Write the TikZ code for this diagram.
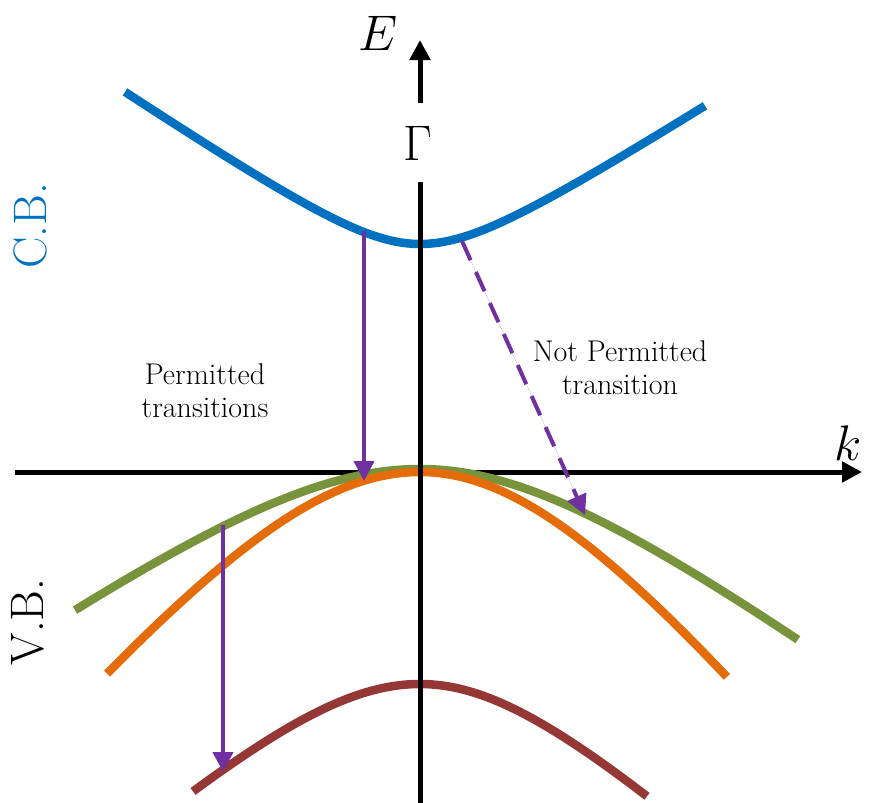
\RequirePackage{fix-cm}
\documentclass[tikz,border=0pt]{standalone}
\usepackage{fontspec}
\usepackage{amsmath,amssymb}
\usepackage{xcolor}
\usepackage{tikz}
\usetikzlibrary{arrows.meta,positioning}

\definecolor{cbblue}{HTML}{0070C0}
\definecolor{hhgreen}{HTML}{77933C}
\definecolor{lhorange}{HTML}{E46C0A}
\definecolor{sobrown}{HTML}{953735}
\definecolor{trpurple}{HTML}{7030A0}

\begin{document}
\begin{tikzpicture}[x=1pt,y=-1pt,>={Triangle[length=20pt,width=20pt]}]
  \tikzstyle{band}=[line width=8.5pt,samples=80]
  \tikzstyle{axis}=[line width=5pt,black]
  \tikzstyle{trans}=[->,line width=4pt,draw=trpurple,fill=trpurple]
  \tikzstyle{lbl}=[align=center,font=\fontsize{30}{33}\selectfont]
  \tikzstyle{bandname}=[rotate=90,font=\fontsize{47}{52}\selectfont]
  \tikzstyle{axlbl}=[font=\fontsize{50}{56}\selectfont]
  \useasboundingbox (0,0) rectangle (870,803);

  % axis ends
  \coordinate (xl) at (15,472);
  \coordinate (xr) at (862,472);
  \coordinate (yb) at (420,803);
  \coordinate (yt) at (420,40);
  \coordinate (gb) at (420,182);
  \coordinate (gt) at (420,103);

  % horizontal axis under the bands
  \draw[axis,->] (xl) -- (xr);

  % bands (u = k in units of 100)
  \draw[band,cbblue] plot[domain=-2.95:0] ({420+100*\x},{244-67.4*(sqrt(0.64+\x*\x)-0.8)})
    -- plot[domain=0:2.85] ({420+100*\x},{244-64*(sqrt(0.64+\x*\x)-0.8)});
  \draw[band,hhgreen] plot[domain=-3.45:0] ({420+100*\x},{469+71*(sqrt(4+\x*\x)-2)})
    -- plot[domain=0:3.78] ({420+100*\x},{469+75*(sqrt(4+\x*\x)-2)});
  \draw[band,lhorange] plot[domain=-3.13:0] ({420+100*\x},{472+124*(sqrt(4.84+\x*\x)-2.2)})
    -- plot[domain=0:3.07] ({420+100*\x},{472+130*(sqrt(4.84+\x*\x)-2.2)});
  \draw[band,sobrown] plot[domain=-2.27:0] ({420+100*\x},{684+88*(sqrt(2.25+\x*\x)-1.5)})
    -- plot[domain=0:2.27] ({420+100*\x},{684+92*(sqrt(2.25+\x*\x)-1.5)});

  % vertical axis
  \draw[axis] (yb) -- (gb);
  \draw[axis,->] (gt) -- (yt);
  \node[axlbl] (gam) at (418,143) {$\Gamma$};
  \node[axlbl] (elbl) at (378,33) {$E$};
  \node[axlbl] (klbl) at (848,443) {$k$};

  % band names
  \node[bandname,text=cbblue] (cb) at (30,226) {C.B.};
  \node[bandname] (vb) at (28,622) {V.B.};

  % transitions
  \coordinate (c1) at (364,231);
  \coordinate (v1) at (364,481);
  \coordinate (v2) at (223,525);
  \coordinate (s2) at (223,772);
  \coordinate (c3) at (462,241);
  \coordinate (v3) at (585,515);
  \draw[trans] (c1) -- (v1);
  \draw[trans] (v2) -- (s2);
  \draw[trans,dash pattern=on 21pt off 13pt] (c3) -- (v3);

  \node[lbl] (perm) at (205,391) {Permitted\\transitions};
  \node[lbl] (nperm) at (620,368) {Not Permitted\\transition};
\end{tikzpicture}
\end{document}
